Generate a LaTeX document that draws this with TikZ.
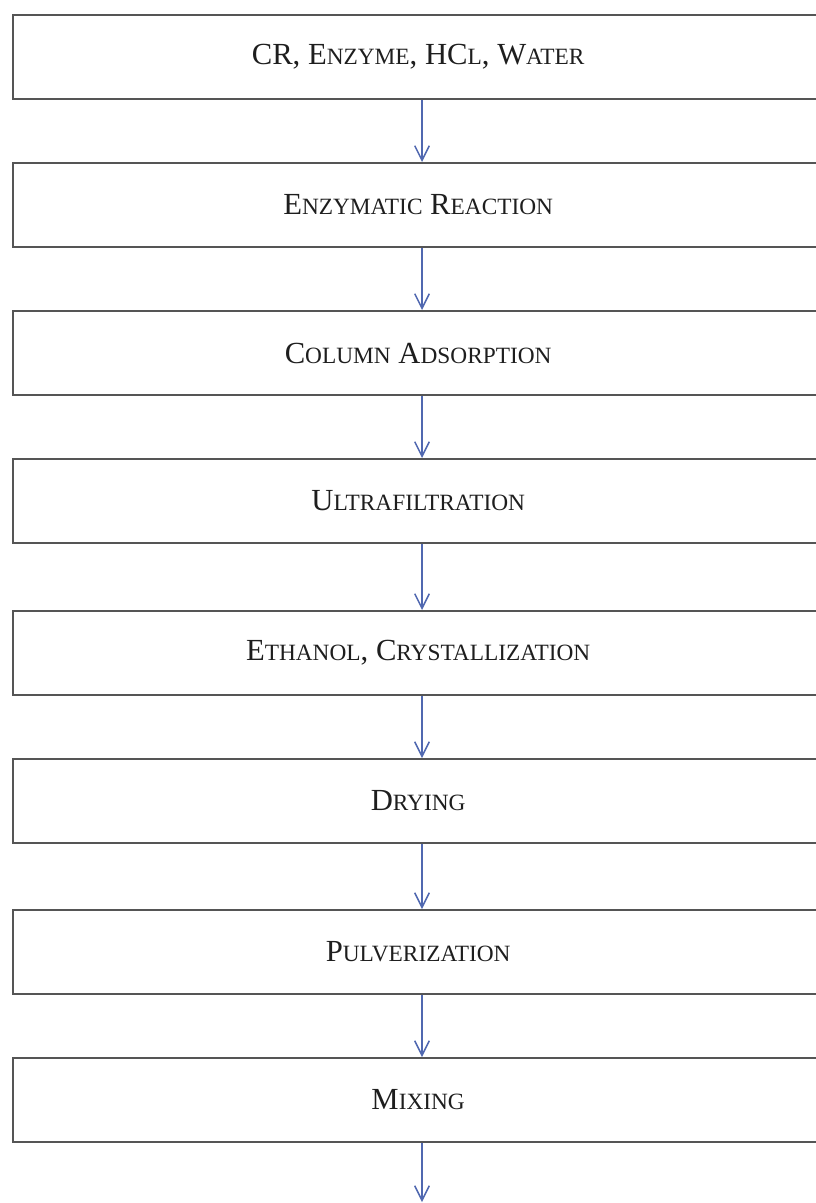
\documentclass[tikz,border=0pt]{standalone}
\usepackage{fontspec}
\setmainfont{Liberation Serif}
\usepackage{xcolor}
\usetikzlibrary{positioning,arrows.meta}

\definecolor{boxline}{HTML}{555555}
\definecolor{flowblue}{HTML}{5068B0}
\definecolor{ink}{HTML}{1E1E1E}

% Word-style small capitals
\newcommand\sml[1]{{\fontsize{17.5}{17.5}\selectfont\MakeUppercase{#1}}}

\begin{document}
\begin{tikzpicture}[x=0.75pt, y=0.75pt, node distance=46.5pt,
  every node/.style = {shape=rectangle, draw=boxline, line width=1.5pt, align=center,
    minimum width=613.5pt, minimum height=63pt, text=ink,
    font=\fontsize{23}{27}\selectfont},
  flow/.style = {draw=flowblue, line width=1.1pt, -{Straight Barb[length=11pt, width=11pt]}}]
\useasboundingbox (0,0) rectangle (816,-1203);
\node (cr) at (422,-57) { CR, E\sml{nzyme}, HC\sml{l}, W\sml{ater} };
\node (reaction) [below=of cr] { E\sml{nzymatic} R\sml{eaction} };
\node (column) [below=of reaction] { C\sml{olumn} A\sml{dsorption} };
\node (ultra) [below=of column] { U\sml{ltrafiltration} };
\node (ethanol) [below=49.5pt of ultra] { E\sml{thanol}, C\sml{rystallization} };
\node (drying) [below=of ethanol] { D\sml{rying} };
\node (pulver) [below=48.75pt of drying] { P\sml{ulverization} };
\node (mixing) [below=of pulver] { M\sml{ixing} };
\coordinate (out) at (422,-1202);
\draw[flow] (cr) -- (reaction);
\draw[flow] (reaction) -- (column);
\draw[flow] (column) -- (ultra);
\draw[flow] (ultra) -- (ethanol);
\draw[flow] (ethanol) -- (drying);
\draw[flow] (drying) -- (pulver);
\draw[flow] (pulver) -- (mixing);
\draw[flow] (mixing) -- (out);
\end{tikzpicture}
\end{document}
